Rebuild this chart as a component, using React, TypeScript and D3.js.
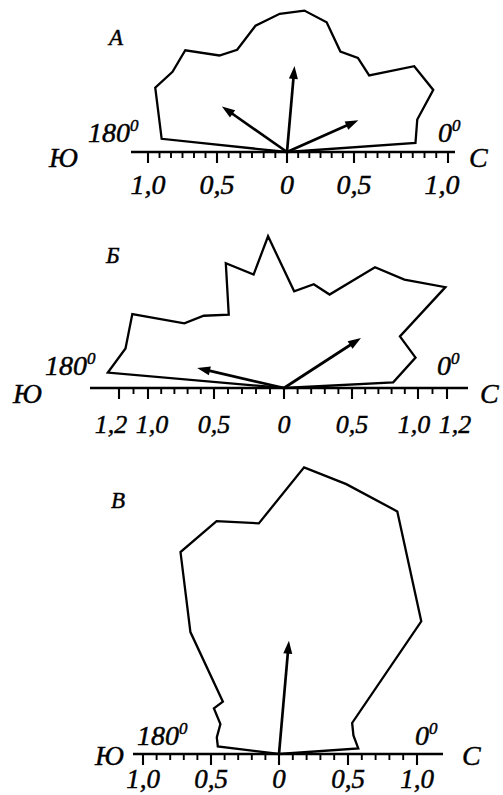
import React from "react";
import * as d3 from "d3";

// Rose diagrams: direction (0° = С, 180° = Ю) against relative magnitude
const anglesA = [4, 14, 23, 34, 43, 53, 62, 73, 83, 93, 104, 116, 125, 135, 145, 154, 174];
const radiiA = [0.94, 0.98, 1.16, 1.12, 0.82, 0.86, 0.83, 0.99, 1.04, 1.01, 0.95, 0.83, 0.86, 1.05, 1.02, 1.07, 0.92];
const vectorAnglesA = [24, 85, 145];
const vectorLengthsA = [0.57, 0.63, 0.58];

const anglesB = [3, 13, 24, 32, 42, 53, 64, 74, 84, 96, 105, 115, 127, 138, 147, 154, 166, 175];
const radiiB = [0.81, 1.0, 0.94, 1.41, 1.2, 1.12, 0.77, 0.8, 0.72, 1.13, 0.87, 1.02, 0.68, 0.8, 0.88, 1.25, 1.21, 1.31];
const vectorAnglesB = [33, 167];
const vectorLengthsB = [0.68, 0.66];

const anglesC = [4, 14, 23, 43, 64, 76, 85, 95, 105, 116, 126, 137, 145, 153, 165, 173];
const radiiC = [0.58, 0.56, 0.58, 1.42, 1.97, 2.03, 2.1, 1.69, 1.76, 1.64, 1.1, 0.56, 0.58, 0.48, 0.47, 0.45];
const vectorAnglesC = [85];
const vectorLengthsC = [0.83];

// Axis tick labels (signed: negative values lie toward Ю)
const labelTicksA = [-1, -0.5, 0, 0.5, 1];
const labelTicksB = [-1.2, -1, -0.5, 0, 0.5, 1, 1.2];
const labelTicksC = [-1, -0.5, 0, 0.5, 1];
const panelNames = ["А", "Б", "В"];

const FONT = "'Liberation Serif', 'Times New Roman', serif";

type Panel = {
  name: string;
  angles: number[];
  radii: number[];
  vAngles: number[];
  vLengths: number[];
  labels: number[];
  labelSize: number;
  labelNudge: (v: number) => number;
  minor: number[];
  major: number[];
  axisDomain: number[];
  axisRange: number[];
  ox: number;
  oy: number;
  unit: number;
  lineX: [number, number];
  labelY: number;
  degY: number;
  deg180X: number;
  deg0X: number;
  sideY: number;
  yuX: number;
  sX: number;
  nameX: number;
  nameY: number;
};

const fmt = (v: number) => (v === 0 ? "0" : d3.format(".1f")(Math.abs(v)).replace(".", ","));

const panels: Panel[] = [
  {
    name: panelNames[0],
    angles: anglesA,
    radii: radiiA,
    vAngles: vectorAnglesA,
    vLengths: vectorLengthsA,
    labels: labelTicksA,
    labelSize: 28,
    labelNudge: (v) => (v === 1 ? -6 : 0),
    minor: [
      ...d3.range(-12, 0).map((i) => i / 12),
      ...d3.range(1, 6).map((i) => i / 12),
      ...d3.range(1, 8).map((i) => 0.5 + i / 16),
    ],
    major: [-1, -0.5, 0, 0.5, 1],
    axisDomain: [-1, -0.5, 0, 0.5, 1],
    axisRange: [148, 217, 287, 354, 448],
    ox: 287,
    oy: 152,
    unit: 137,
    lineX: [131, 455],
    labelY: 194,
    degY: 142,
    deg180X: 88,
    deg0X: 438,
    sideY: 167,
    yuX: 49,
    sX: 469,
    nameX: 109,
    nameY: 45,
  },
  {
    name: panelNames[1],
    angles: anglesB,
    radii: radiiB,
    vAngles: vectorAnglesB,
    vLengths: vectorLengthsB,
    labels: labelTicksB,
    labelSize: 26,
    labelNudge: (v) => (Math.abs(v) > 1.1 ? Math.sign(v) * 8 : Math.abs(v) === 1 ? -Math.sign(v) * 4 : 0),
    minor: d3.range(-12, 13).map((i) => i / 10),
    major: [-1.2, -1, -0.5, 0, 0.5, 1, 1.2],
    axisDomain: [-1.2, -1, -0.5, 0, 0.5, 1, 1.2],
    axisRange: [119, 148, 214, 284, 352, 418, 447],
    ox: 284,
    oy: 388,
    unit: 135,
    lineX: [90, 468],
    labelY: 433,
    degY: 375,
    deg180X: 45,
    deg0X: 437,
    sideY: 403,
    yuX: 13,
    sX: 480,
    nameX: 106,
    nameY: 263,
  },
  {
    name: panelNames[2],
    angles: anglesC,
    radii: radiiC,
    vAngles: vectorAnglesC,
    vLengths: vectorLengthsC,
    labels: labelTicksC,
    labelSize: 27,
    labelNudge: () => 0,
    minor: d3.range(-10, 11).map((i) => i / 10),
    major: [-1, -0.5, 0, 0.5, 1],
    axisDomain: [-1, 0, 1],
    axisRange: [143, 279, 417],
    ox: 279,
    oy: 754,
    unit: 137,
    lineX: [133, 443],
    labelY: 788,
    degY: 745,
    deg180X: 137,
    deg0X: 415,
    sideY: 765,
    yuX: 95,
    sX: 462,
    nameX: 111,
    nameY: 508,
  },
];

function RosePanel({ p }: { p: Panel }) {
  const axis = d3.scaleLinear().domain(p.axisDomain).range(p.axisRange);
  const r = d3.scaleLinear().domain([0, 1]).range([0, p.unit]);
  const toXY = (deg: number, v: number): [number, number] => {
    const a = (deg * Math.PI) / 180;
    return [p.ox + r(v) * Math.cos(a), p.oy - r(v) * Math.sin(a)];
  };
  const pts: [number, number][] = [
    [p.ox, p.oy],
    ...p.angles.map((a, i) => toXY(a, p.radii[i])),
    [p.ox, p.oy],
  ];
  const outline = d3.line()(pts) || "";
  const head = 13;
  const halfW = 4.5;

  return (
    <g>
      <path d={outline} fill="none" stroke="#000" strokeWidth={2.3} strokeLinejoin="miter" />
      {p.vAngles.map((a, i) => {
        const [tx, ty] = toXY(a, p.vLengths[i]);
        const rad = (a * Math.PI) / 180;
        const ux = Math.cos(rad);
        const uy = -Math.sin(rad);
        const bx = tx - ux * head;
        const by = ty - uy * head;
        const tri = d3.line()([
          [tx, ty],
          [bx - uy * halfW, by + ux * halfW],
          [bx + uy * halfW, by - ux * halfW],
        ]);
        return (
          <g key={i}>
            <line x1={p.ox} y1={p.oy} x2={bx + ux * 2} y2={by + uy * 2} stroke="#000" strokeWidth={2.7} />
            <path d={(tri || "") + "Z"} fill="#000" />
          </g>
        );
      })}
      <line x1={p.lineX[0]} x2={p.lineX[1]} y1={p.oy} y2={p.oy} stroke="#000" strokeWidth={2.3} />
      {p.minor.map((v, i) => (
        <line key={"m" + i} x1={axis(v)} x2={axis(v)} y1={p.oy} y2={p.oy + 6} stroke="#000" strokeWidth={1.9} />
      ))}
      {p.major.map((v, i) => (
        <line key={"M" + i} x1={axis(v)} x2={axis(v)} y1={p.oy} y2={p.oy + 11} stroke="#000" strokeWidth={2.1} />
      ))}
      <g fontFamily={FONT} fontStyle="italic" fontSize={28} fill="#000" stroke="#000" strokeWidth={0.45}>
        {p.labels.map((v, i) => (
          <text key={i} x={axis(v) + p.labelNudge(v)} y={p.labelY} textAnchor="middle" fontSize={p.labelSize}>
            {fmt(v)}
          </text>
        ))}
        <text x={p.deg180X} y={p.degY}>
          180
          <tspan fontSize={17} dy={-11}>0</tspan>
        </text>
        <text x={p.deg0X} y={p.degY}>
          0
          <tspan fontSize={17} dy={-11}>0</tspan>
        </text>
        <text x={p.yuX} y={p.sideY}>Ю</text>
        <text x={p.sX} y={p.sideY}>С</text>
        <text x={p.nameX} y={p.nameY} fontSize={23}>
          {p.name}
        </text>
      </g>
    </g>
  );
}

export default function App() {
  return (
    <svg
      width={503}
      height={795}
      viewBox="0 0 503 795"
      style={{ position: "absolute", left: 0, top: 0, background: "#fff" }}
    >
      <rect width={503} height={795} fill="#fff" />
      {panels.map((p, i) => (
        <RosePanel key={i} p={p} />
      ))}
    </svg>
  );
}
